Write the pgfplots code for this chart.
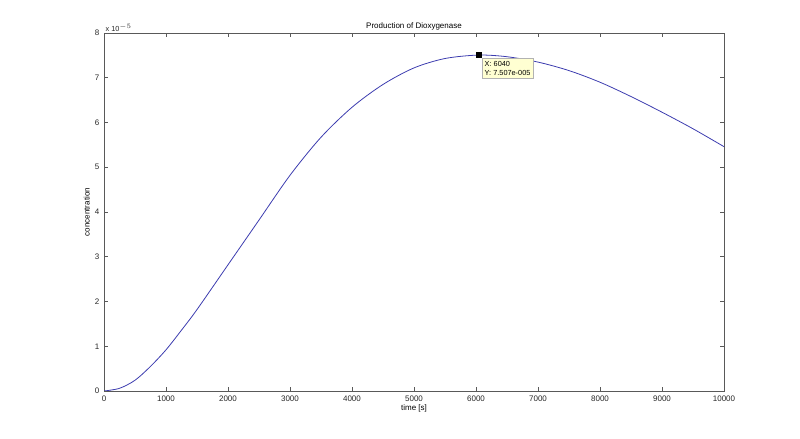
\documentclass[border=0pt]{standalone}
\usepackage{pgfplots}
\pgfplotsset{compat=1.18}
\usepackage{fontspec}
\setmainfont{Liberation Sans}

\definecolor{matblue}{RGB}{60,60,175}
\definecolor{tipbg}{RGB}{255,255,210}

\begin{document}
\begin{tikzpicture}
    % page frame: 800 x 439 px at 0.75pt per px
    \path (0pt,0pt) rectangle (600pt,329.25pt);
    \begin{axis}[
            at={(78pt,36pt)}, anchor=south west,
            width=465pt, height=268.5pt, scale only axis,
            xmin=0, xmax=10000,
            ymin=0, ymax=8e-5,
            xtick={0,1000,...,10000},
            ytick={0,1e-5,2e-5,3e-5,4e-5,5e-5,6e-5,7e-5,8e-5},
            scaled x ticks=false,
            scaled y ticks=base 10:5,
            ytick scale label code/.code={x 10$^{-5}$},
            every y tick scale label/.style={at={(rel axis cs:0,1)}, anchor=south west, inner sep=1pt, font=\fontsize{5.5}{6}\selectfont},
            /pgf/number format/assume math mode=true,
            xticklabel style={/pgf/number format/1000 sep={}},
            tick label style={font=\fontsize{6}{7}\selectfont, text=black!85},
            tick align=inside,
            major tick length=3pt,
            axis line style={black!65},
            every tick/.style={black!65},
            title={Production of Dioxygenase},
            title style={font=\fontsize{6}{7}\selectfont, yshift=-7.5pt},
            xlabel={time [s]},
            ylabel={concentration},
            label style={font=\fontsize{6}{7}\selectfont},
            xlabel style={yshift=4pt},
            ylabel style={yshift=-3pt},
        ]

        \addplot[color=matblue, line width=0.6pt, smooth] coordinates {
                (0, 0)
                (250, 0.06e-5)
                (500, 0.24e-5)
                (750, 0.55e-5)
                (1000, 0.92e-5)
                (1250, 1.36e-5)
                (1500, 1.82e-5)
                (2000, 2.82e-5)
                (2500, 3.82e-5)
                (3000, 4.82e-5)
                (3500, 5.67e-5)
                (4000, 6.34e-5)
                (4500, 6.85e-5)
                (5000, 7.22e-5)
                (5500, 7.43e-5)
                (6040, 7.507e-5)
                (6500, 7.47e-5)
                (7000, 7.35e-5)
                (7500, 7.16e-5)
                (8000, 6.90e-5)
                (8500, 6.58e-5)
                (9000, 6.23e-5)
                (9500, 5.86e-5)
                (10000, 5.46e-5)
            };

        % data tip
        \addplot[only marks, mark=square*, mark size=2pt, color=black] coordinates {
                (6040, 7.507e-5)
            };
        \node[anchor=north west, xshift=2.5pt, yshift=-2.5pt, fill=tipbg, draw=black!30,
              align=left, inner sep=2pt, font=\fontsize{5.5}{7}\selectfont]
            at (axis cs:6040,7.507e-5) {X: 6040\\Y: 7.507e-005};

    \end{axis}
\end{tikzpicture}
\end{document}
